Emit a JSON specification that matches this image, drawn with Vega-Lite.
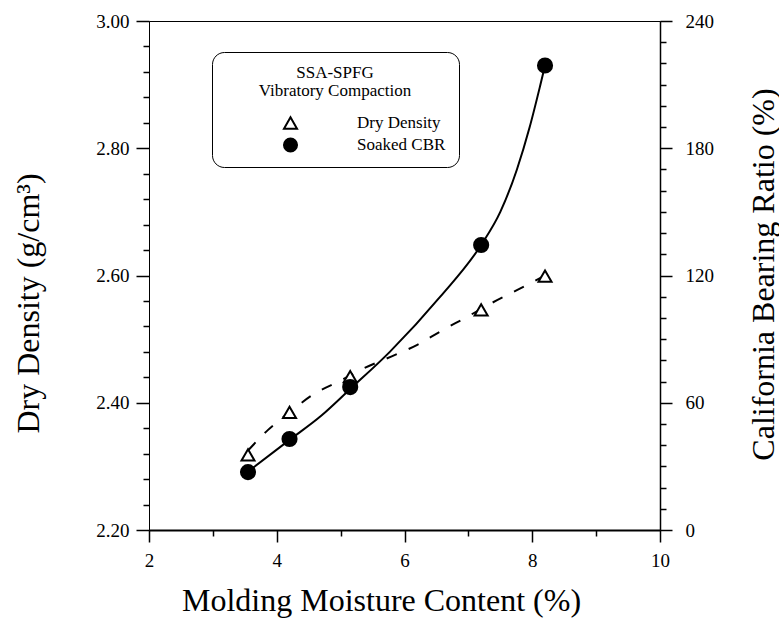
{
  "$schema": "https://vega.github.io/schema/vega-lite/v6.json",
  "width": 511,
  "height": 509,
  "autosize": {"type": "none"},
  "padding": {"left": 149, "top": 21, "right": 119, "bottom": 106},
  "background": "white",
  "config": {
    "font": "Liberation Serif",
    "view": {"stroke": "black", "strokeWidth": 1},
    "axis": {
      "grid": false,
      "domainColor": "black",
      "tickColor": "black",
      "labelColor": "black",
      "titleColor": "black",
      "labelFont": "Liberation Serif",
      "titleFont": "Liberation Serif",
      "titleFontWeight": "normal",
      "labelFontSize": 19,
      "titleFontSize": 32,
      "tickWidth": 1.5,
      "labelOverlap": false
    }
  },
  "datasets": {
    "density": [
      {"moisture": 3.55, "density": 2.318, "series": "Dry Density"},
      {"moisture": 4.2, "density": 2.385, "series": "Dry Density"},
      {"moisture": 5.15, "density": 2.441, "series": "Dry Density"},
      {"moisture": 7.2, "density": 2.546, "series": "Dry Density"},
      {"moisture": 8.2, "density": 2.599, "series": "Dry Density"}
    ],
    "cbr": [
      {"moisture": 3.55, "cbr": 27.3, "series": "Soaked CBR"},
      {"moisture": 4.2, "cbr": 42.9, "series": "Soaked CBR"},
      {"moisture": 5.15, "cbr": 67.4, "series": "Soaked CBR"},
      {"moisture": 7.2, "cbr": 134.4, "series": "Soaked CBR"},
      {"moisture": 8.2, "cbr": 219, "series": "Soaked CBR"}
    ],
    "densityFit": [
      {"moisture": 3.55, "density": 2.325},
      {"moisture": 3.86, "density": 2.357},
      {"moisture": 4.2, "density": 2.385},
      {"moisture": 4.57, "density": 2.413},
      {"moisture": 5.0, "density": 2.435},
      {"moisture": 5.3, "density": 2.451},
      {"moisture": 5.8, "density": 2.473},
      {"moisture": 6.2, "density": 2.491},
      {"moisture": 6.56, "density": 2.512},
      {"moisture": 6.98, "density": 2.535},
      {"moisture": 7.37, "density": 2.557},
      {"moisture": 7.76, "density": 2.577},
      {"moisture": 8.2, "density": 2.6}
    ],
    "cbrFit": [
      {"moisture": 3.55, "cbr": 27.5},
      {"moisture": 4.2, "cbr": 42.5},
      {"moisture": 4.7, "cbr": 54},
      {"moisture": 5.15, "cbr": 66.5},
      {"moisture": 5.77, "cbr": 84},
      {"moisture": 6.56, "cbr": 110},
      {"moisture": 7.2, "cbr": 134.4},
      {"moisture": 7.5, "cbr": 150},
      {"moisture": 7.76, "cbr": 170},
      {"moisture": 7.96, "cbr": 190},
      {"moisture": 8.12, "cbr": 209},
      {"moisture": 8.2, "cbr": 219}
    ]
  },
  "layer": [
    {
      "layer": [
        {
          "data": {"name": "densityFit"},
          "mark": {"type": "line", "interpolate": "monotone", "color": "black", "strokeWidth": 2, "strokeDash": [11, 13]},
          "encoding": {
            "x": {
              "field": "moisture", "type": "quantitative",
              "scale": {"domain": [2, 10], "nice": false, "zero": false},
              "axis": {
                "orient": "bottom",
                "values": [2, 2.5, 3, 3.5, 4, 4.5, 5, 5.5, 6, 6.5, 7, 7.5, 8, 8.5, 9, 9.5, 10],
                "labelExpr": "datum.value % 2 === 0 ? format(datum.value, 'd') : ''",
                "tickSize": {"condition": {"test": "datum.value % 2 === 0", "value": 12}, "value": 6},
                "labelPadding": 9,
                "labelFlush": false,
                "labelOverlap": false,
                "domainWidth": 2,
                "title": "Molding Moisture Content (%)",
                "titleX": 232,
                "titleY": 80,
                "titleAlign": "center",
                "titleBaseline": "alphabetic"
              }
            },
            "y": {
              "field": "density", "type": "quantitative",
              "scale": {"domain": [2.2, 3.0], "nice": false, "zero": false},
              "axis": {
                "orient": "left",
                "values": [2.2, 2.4, 2.6, 2.8, 3.0],
                "format": ".2f",
                "tickSize": 13,
                "labelPadding": 7,
                "labelFlush": false,
                "labelOverlap": false,
                "domainWidth": 1,
                "title": "Dry Density (g/cm³)",
                "titleAngle": 270,
                "titleX": -111,
                "titleY": 282,
                "titleAlign": "center",
                "titleBaseline": "alphabetic"
              }
            }
          }
        },
        {
          "data": {"name": "density"},
          "mark": {"type": "point", "filled": true, "strokeWidth": 2, "size": 170, "opacity": 1},
          "encoding": {
            "x": {"field": "moisture", "type": "quantitative"},
            "y": {
              "field": "density", "type": "quantitative",
              "axis": {
                "orient": "left",
                "values": [2.24, 2.28, 2.32, 2.36, 2.44, 2.48, 2.52, 2.56, 2.64, 2.68, 2.72, 2.76, 2.84, 2.88, 2.92, 2.96],
                "labels": false,
                "domain": false,
                "tickSize": 6,
                "title": null
              }
            },
            "shape": {
              "field": "series", "type": "nominal",
              "scale": {"domain": ["Dry Density", "Soaked CBR"], "range": ["triangle-up", "circle"]},
              "legend": {
                "orient": "none", "legendX": 63, "legendY": 31,
                "title": ["SSA-SPFG", "Vibratory Compaction"],
                "titleFont": "Liberation Serif", "titleFontSize": 17, "titleFontWeight": "normal", "titleColor": "black",
                "titleAnchor": "middle", "titleAlign": "center", "titleLineHeight": 18, "titlePadding": 14, "titleLimit": 400,
                "labelFont": "Liberation Serif", "labelFontSize": 17, "labelColor": "black", "labelOffset": 58,
                "strokeColor": "black", "cornerRadius": 12, "padding": 13, "fillColor": "white",
                "symbolOffset": 57, "symbolSize": 170, "symbolStrokeWidth": 2,
                "clipHeight": 18, "rowPadding": 4
              }
            },
            "fill": {
              "field": "series", "type": "nominal",
              "scale": {"domain": ["Dry Density", "Soaked CBR"], "range": ["white", "black"]}
            },
            "stroke": {
              "field": "series", "type": "nominal",
              "scale": {"domain": ["Dry Density", "Soaked CBR"], "range": ["black", "black"]}
            }
          }
        }
      ],
      "resolve": {"axis": {"y": "independent"}}
    },
    {
      "layer": [
        {
          "data": {"name": "cbrFit"},
          "mark": {"type": "line", "interpolate": "monotone", "color": "black", "strokeWidth": 2},
          "encoding": {
            "x": {"field": "moisture", "type": "quantitative"},
            "y": {
              "field": "cbr", "type": "quantitative",
              "scale": {"domain": [0, 240], "nice": false},
              "axis": {
                "orient": "right",
                "values": [0, 60, 120, 180, 240],
                "tickSize": 12,
                "labelPadding": 13,
                "labelFlush": false,
                "labelOverlap": false,
                "domainWidth": 1.5,
                "title": "California Bearing Ratio (%)",
                "titleAngle": 270,
                "titleX": 113,
                "titleY": 253,
                "titleAlign": "center",
                "titleBaseline": "alphabetic"
              }
            }
          }
        },
        {
          "data": {"name": "cbr"},
          "mark": {"type": "point", "filled": true, "strokeWidth": 2, "size": 200, "opacity": 1},
          "encoding": {
            "x": {"field": "moisture", "type": "quantitative"},
            "y": {
              "field": "cbr", "type": "quantitative",
              "axis": {
                "orient": "right",
                "values": [10, 20, 30, 40, 50, 70, 80, 90, 100, 110, 130, 140, 150, 160, 170, 190, 200, 210, 220, 230],
                "labels": false,
                "domain": false,
                "tickSize": 6,
                "title": null
              }
            },
            "shape": {"field": "series", "type": "nominal"},
            "fill": {"field": "series", "type": "nominal"},
            "stroke": {"field": "series", "type": "nominal"}
          }
        }
      ],
      "resolve": {"axis": {"y": "independent"}}
    }
  ],
  "resolve": {"scale": {"y": "independent"}, "axis": {"y": "independent"}}
}
